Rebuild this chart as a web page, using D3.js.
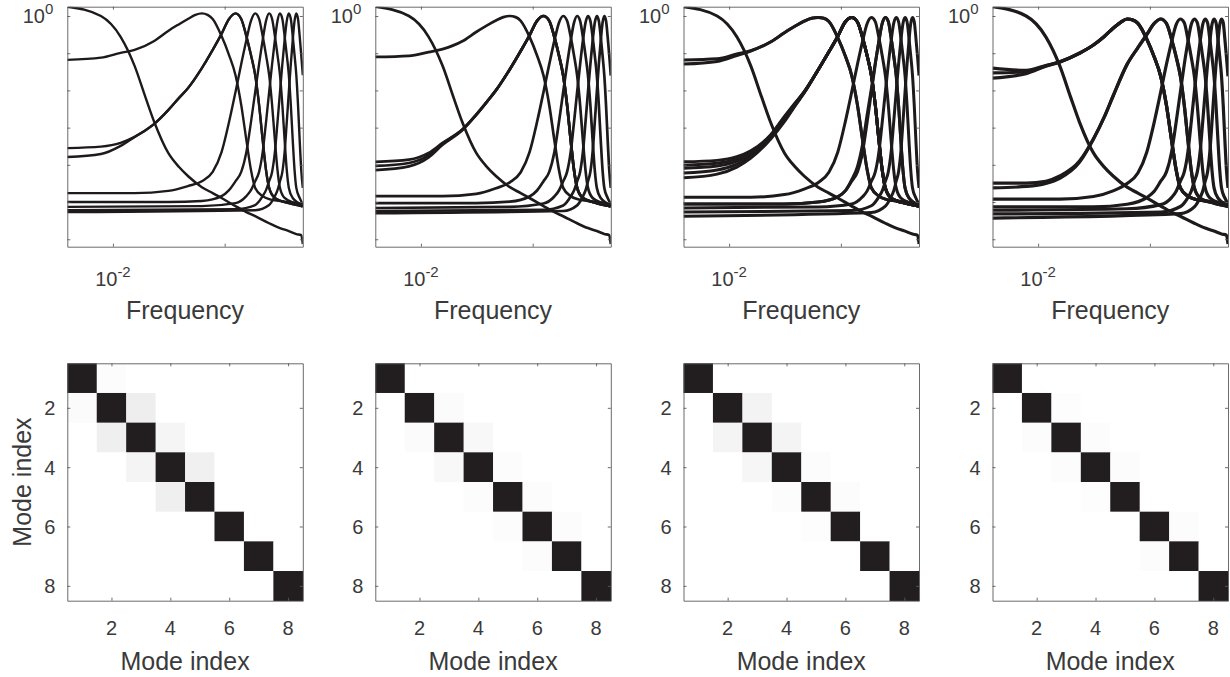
<!DOCTYPE html>
<html><head><meta charset="utf-8">
<script src="https://cdn.jsdelivr.net/npm/d3@7/dist/d3.min.js"></script>
<style>
body{margin:0;background:#fff}
text{font-family:"Liberation Sans",Arial,Helvetica,sans-serif;fill:#3a3a3a}
</style></head>
<body><svg id="c" width="1230" height="677"></svg>
<script>
// ---------------- DATA ----------------
// spectra: [frequency bin, log10 magnitude]; frequency (cycles/sample) = bin / 256
const BINS = 256;
const freqTicks = [0.01, 0.1];
const freqTickLabels = [["10", "-2"], null];
const magTicks = [1e-6, 1e-5, 1e-4, 1e-3, 1e-2, 1e-1, 1];
const magTickLabels = [null, null, null, null, null, null, ["10", "0"]];
const modeTicks = [2, 4, 6, 8];
const freqTitle = "Frequency";
const modeTitle = "Mode index";

const lowpass = [[1,0.25],[2,0],[3,-0.56],[4,-1.34],[5,-2.18],[6,-2.85],[8,-3.68],[10,-4.06],[12,-4.30],[16,-4.60],[20,-4.76],[24,-4.89],[32,-5.11],[40,-5.27],[48,-5.38],[64,-5.57],[80,-5.70],[96,-5.78],[112,-5.86],[124,-5.89],[128,-6.13]];

const panel1Spectra = [
  lowpass,
  [[1,-1.18],[2,-1.12],[3,-0.99],[4,-0.91],[6,-0.67],[8,-0.40],[10,-0.22],[12,-0.08],[14,0.03],[16,0.07],[18,0.03],[20,-0.08],[24,-0.54],[28,-1.05],[32,-1.59],[36,-2.39],[40,-3.33],[44,-4.14],[48,-4.62],[56,-4.84],[64,-4.92],[96,-5.0],[128,-5.05]],
  [[1,-3.55],[2,-3.51],[3,-3.41],[4,-3.25],[6,-2.90],[8,-2.53],[10,-2.20],[12,-1.94],[16,-1.40],[20,-0.91],[24,-0.48],[28,-0.08],[32,0.07],[36,-0.08],[40,-0.54],[44,-1.05],[48,-1.59],[52,-2.39],[56,-3.33],[60,-4.14],[64,-4.62],[72,-4.89],[96,-5.03],[128,-5.11]],
  [[1,-3.79],[2,-3.71],[3,-3.49],[4,-3.25],[6,-2.90],[8,-2.53],[10,-2.20],[12,-1.94],[16,-1.40],[20,-0.91],[24,-0.48],[28,-0.08],[32,0.07],[36,-0.08],[40,-0.54],[44,-1.05],[48,-1.59],[52,-2.39],[56,-3.33],[60,-4.14],[64,-4.62],[72,-4.89],[96,-5.03],[128,-5.11]],
  [[1,-4.76],[4,-4.76],[8,-4.70],[12,-4.57],[16,-4.44],[20,-4.19],[24,-3.66],[28,-2.85],[32,-2.04],[36,-1.29],[40,-0.65],[44,-0.13],[48,0.07],[52,-0.08],[56,-0.54],[60,-1.05],[64,-1.59],[68,-2.39],[72,-3.33],[76,-4.14],[80,-4.62],[88,-4.89],[112,-5.05],[128,-5.13]],
  [[1,-5.0],[8,-5.0],[16,-4.97],[24,-4.84],[28,-4.68],[32,-4.44],[36,-4.19],[40,-3.66],[44,-2.85],[48,-2.04],[52,-1.29],[56,-0.65],[60,-0.13],[64,0.07],[68,-0.08],[72,-0.54],[76,-1.05],[80,-1.59],[84,-2.39],[88,-3.33],[92,-4.14],[96,-4.62],[104,-4.89],[128,-5.08]],
  [[1,-5.13],[16,-5.11],[32,-5.03],[40,-4.84],[44,-4.68],[48,-4.44],[52,-4.19],[56,-3.66],[60,-2.85],[64,-2.04],[68,-1.29],[72,-0.65],[76,-0.13],[80,0.07],[84,-0.08],[88,-0.54],[92,-1.05],[96,-1.59],[100,-2.39],[104,-3.33],[108,-4.14],[112,-4.62],[120,-4.89],[128,-5.05]],
  [[1,-5.22],[32,-5.19],[48,-5.08],[56,-4.84],[60,-4.68],[64,-4.44],[68,-4.19],[72,-3.66],[76,-2.85],[80,-2.04],[84,-1.29],[88,-0.65],[92,-0.13],[96,0.07],[100,-0.08],[104,-0.54],[108,-1.05],[112,-1.59],[116,-2.39],[120,-3.33],[124,-4.14],[128,-4.62]],
  [[1,-5.27],[48,-5.22],[64,-5.08],[72,-4.84],[76,-4.68],[80,-4.44],[84,-4.19],[88,-3.66],[92,-2.85],[96,-2.04],[100,-1.29],[104,-0.65],[108,-0.13],[112,0.07],[116,-0.08],[120,-0.54],[124,-1.05],[128,-1.59]]
];

const panel2Spectra = [
  lowpass,
  [[1,-1.10],[2,-1.07],[3,-0.97],[4,-0.89],[6,-0.68],[8,-0.43],[10,-0.25],[12,-0.12],[14,-0.03],[16,0.0],[18,-0.03],[20,-0.13],[24,-0.56],[28,-1.06],[32,-1.6],[36,-2.39],[40,-3.33],[44,-4.14],[48,-4.62],[56,-4.84],[64,-4.92],[96,-5.0],[128,-5.05]],
  [[1,-3.92],[2,-3.86],[3,-3.68],[4,-3.41],[6,-3.05],[8,-2.65],[10,-2.30],[12,-2.0],[16,-1.43],[20,-0.94],[24,-0.52],[28,-0.13],[32,0.0],[36,-0.13],[40,-0.56],[44,-1.06],[48,-1.6],[52,-2.39],[56,-3.33],[60,-4.14],[64,-4.62],[72,-4.89],[96,-5.03],[128,-5.11]],
  [[1,-4.03],[2,-3.95],[3,-3.74],[4,-3.43],[6,-3.06],[8,-2.65],[10,-2.30],[12,-2.0],[16,-1.43],[20,-0.94],[24,-0.52],[28,-0.13],[32,0.0],[36,-0.13],[40,-0.56],[44,-1.06],[48,-1.6],[52,-2.39],[56,-3.33],[60,-4.14],[64,-4.62],[72,-4.89],[96,-5.03],[128,-5.11]],
  [[1,-4.14],[2,-4.04],[3,-3.80],[4,-3.46],[6,-3.07],[8,-2.66],[10,-2.30],[12,-2.0],[16,-1.43],[20,-0.94],[24,-0.52],[28,-0.13],[32,0.0],[36,-0.13],[40,-0.56],[44,-1.06],[48,-1.6],[52,-2.39],[56,-3.33],[60,-4.14],[64,-4.62],[72,-4.89],[96,-5.03],[128,-5.11]],
  [[1,-4.84],[4,-4.84],[8,-4.78],[12,-4.63],[16,-4.47],[20,-4.2],[24,-3.66],[28,-2.85],[32,-2.04],[36,-1.30],[40,-0.67],[44,-0.18],[48,0.0],[52,-0.13],[56,-0.56],[60,-1.06],[64,-1.6],[68,-2.39],[72,-3.33],[76,-4.14],[80,-4.62],[88,-4.89],[112,-5.05],[128,-5.13]],
  [[1,-5.03],[8,-5.03],[16,-4.99],[24,-4.85],[28,-4.69],[32,-4.44],[36,-4.19],[40,-3.66],[44,-2.85],[48,-2.04],[52,-1.30],[56,-0.67],[60,-0.18],[64,0.0],[68,-0.13],[72,-0.56],[76,-1.06],[80,-1.6],[84,-2.39],[88,-3.33],[92,-4.14],[96,-4.62],[104,-4.89],[128,-5.08]],
  [[1,-5.16],[16,-5.13],[32,-5.04],[40,-4.85],[44,-4.69],[48,-4.44],[52,-4.19],[56,-3.66],[60,-2.85],[64,-2.04],[68,-1.30],[72,-0.67],[76,-0.18],[80,0.0],[84,-0.13],[88,-0.56],[92,-1.06],[96,-1.6],[100,-2.39],[104,-3.33],[108,-4.14],[112,-4.62],[120,-4.89],[128,-5.05]],
  [[1,-5.24],[32,-5.21],[48,-5.09],[56,-4.85],[60,-4.69],[64,-4.44],[68,-4.19],[72,-3.66],[76,-2.85],[80,-2.04],[84,-1.30],[88,-0.67],[92,-0.18],[96,0.0],[100,-0.13],[104,-0.56],[108,-1.06],[112,-1.6],[116,-2.39],[120,-3.33],[124,-4.14],[128,-4.62]],
  [[1,-5.30],[48,-5.24],[64,-5.09],[72,-4.85],[76,-4.69],[80,-4.44],[84,-4.19],[88,-3.66],[92,-2.85],[96,-2.04],[100,-1.30],[104,-0.67],[108,-0.18],[112,0.0],[116,-0.13],[120,-0.56],[124,-1.06],[128,-1.6]]
];

const panel3Spectra = [
  lowpass,
  [[1,-1.18],[2,-1.15],[3,-1.02],[4,-0.93],[6,-0.70],[8,-0.45],[10,-0.27],[12,-0.14],[14,-0.06],[16,-0.04],[18,-0.06],[20,-0.15],[24,-0.58],[28,-1.07],[32,-1.6],[36,-2.39],[40,-3.33],[44,-4.14],[48,-4.62],[56,-4.84],[64,-4.92],[96,-5.0],[128,-5.05]],
  [[1,-1.29],[2,-1.22],[3,-1.06],[4,-0.94],[6,-0.70],[8,-0.45],[10,-0.27],[12,-0.14],[14,-0.06],[16,-0.04],[18,-0.06],[20,-0.15],[24,-0.58],[28,-1.07],[32,-1.6],[36,-2.39],[40,-3.33],[44,-4.14],[48,-4.62],[56,-4.84],[64,-4.92],[96,-5.0],[128,-5.05]],
  [[1,-3.92],[2,-3.88],[3,-3.78],[4,-3.62],[6,-3.20],[8,-2.70],[10,-2.33],[12,-2.04],[16,-1.45],[20,-0.96],[24,-0.55],[28,-0.16],[32,-0.04],[36,-0.16],[40,-0.58],[44,-1.07],[48,-1.6],[52,-2.39],[56,-3.33],[60,-4.14],[64,-4.62],[72,-4.89],[96,-5.03],[128,-5.11]],
  [[1,-4.01],[2,-3.96],[3,-3.84],[4,-3.66],[6,-3.22],[8,-2.73],[10,-2.35],[12,-2.04],[16,-1.45],[20,-0.96],[24,-0.55],[28,-0.16],[32,-0.04],[36,-0.16],[40,-0.58],[44,-1.07],[48,-1.6],[52,-2.39],[56,-3.33],[60,-4.14],[64,-4.62],[72,-4.89],[96,-5.03],[128,-5.11]],
  [[1,-4.09],[2,-4.03],[3,-3.90],[4,-3.70],[6,-3.25],[8,-2.76],[10,-2.37],[12,-2.05],[16,-1.45],[20,-0.96],[24,-0.55],[28,-0.16],[32,-0.04],[36,-0.16],[40,-0.58],[44,-1.07],[48,-1.6],[52,-2.39],[56,-3.33],[60,-4.14],[64,-4.62],[72,-4.89],[96,-5.03],[128,-5.11]],
  [[1,-4.22],[2,-4.14],[3,-3.98],[4,-3.76],[6,-3.28],[8,-2.80],[10,-2.39],[12,-2.06],[16,-1.45],[20,-0.96],[24,-0.55],[28,-0.16],[32,-0.04],[36,-0.16],[40,-0.58],[44,-1.07],[48,-1.6],[52,-2.39],[56,-3.33],[60,-4.14],[64,-4.62],[72,-4.89],[96,-5.03],[128,-5.11]],
  [[1,-4.35],[2,-4.25],[3,-4.06],[4,-3.82],[6,-3.31],[8,-2.84],[10,-2.41],[12,-2.07],[16,-1.45],[20,-0.96],[24,-0.55],[28,-0.16],[32,-0.04],[36,-0.16],[40,-0.58],[44,-1.07],[48,-1.6],[52,-2.39],[56,-3.33],[60,-4.14],[64,-4.62],[72,-4.89],[96,-5.03],[128,-5.11]],
  [[1,-4.87],[4,-4.87],[8,-4.80],[12,-4.65],[16,-4.48],[20,-4.2],[24,-3.66],[28,-2.85],[32,-2.04],[36,-1.30],[40,-0.68],[44,-0.2],[48,-0.04],[52,-0.15],[56,-0.58],[60,-1.07],[64,-1.6],[68,-2.39],[72,-3.33],[76,-4.14],[80,-4.62],[88,-4.89],[112,-5.05],[128,-5.13]],
  [[1,-5.05],[8,-5.05],[16,-5.0],[24,-4.86],[28,-4.70],[32,-4.44],[36,-4.19],[40,-3.66],[44,-2.85],[48,-2.04],[52,-1.30],[56,-0.68],[60,-0.2],[64,-0.04],[68,-0.15],[72,-0.58],[76,-1.07],[80,-1.6],[84,-2.39],[88,-3.33],[92,-4.14],[96,-4.62],[104,-4.89],[128,-5.08]],
  [[1,-5.05],[8,-5.05],[16,-5.0],[24,-4.86],[28,-4.70],[32,-4.40],[36,-4.05],[40,-3.45],[44,-2.65],[48,-1.95],[52,-1.26],[56,-0.68],[60,-0.2],[64,-0.04],[68,-0.15],[72,-0.58],[76,-1.07],[80,-1.6],[84,-2.39],[88,-3.33],[92,-4.14],[96,-4.62],[104,-4.89],[128,-5.08]],
  [[1,-5.16],[16,-5.13],[32,-5.05],[40,-4.86],[44,-4.70],[48,-4.44],[52,-4.19],[56,-3.66],[60,-2.85],[64,-2.04],[68,-1.30],[72,-0.68],[76,-0.2],[80,-0.04],[84,-0.15],[88,-0.58],[92,-1.07],[96,-1.6],[100,-2.39],[104,-3.33],[108,-4.14],[112,-4.62],[120,-4.89],[128,-5.05]],
  [[1,-5.27],[32,-5.23],[48,-5.10],[56,-4.86],[60,-4.70],[64,-4.44],[68,-4.19],[72,-3.66],[76,-2.85],[80,-2.04],[84,-1.30],[88,-0.68],[92,-0.2],[96,-0.04],[100,-0.15],[104,-0.58],[108,-1.07],[112,-1.6],[116,-2.39],[120,-3.33],[124,-4.14],[128,-4.62]],
  [[1,-5.38],[48,-5.28],[64,-5.11],[72,-4.86],[76,-4.70],[80,-4.44],[84,-4.19],[88,-3.66],[92,-2.85],[96,-2.04],[100,-1.30],[104,-0.68],[108,-0.2],[112,-0.04],[116,-0.15],[120,-0.58],[124,-1.07],[128,-1.6]]
];

const panel4Spectra = [
  lowpass,
  [[1,-1.40],[2,-1.46],[3,-1.33],[4,-1.23],[6,-1.0],[8,-0.78],[10,-0.55],[12,-0.33],[14,-0.17],[16,-0.08],[18,-0.11],[20,-0.2],[24,-0.62],[28,-1.1],[32,-1.62],[36,-2.4],[40,-3.33],[44,-4.14],[48,-4.62],[56,-4.84],[64,-4.92],[96,-5.0],[128,-5.05]],
  [[1,-1.53],[2,-1.50],[3,-1.34],[4,-1.23],[6,-1.0],[8,-0.78],[10,-0.55],[12,-0.33],[14,-0.17],[16,-0.08],[18,-0.11],[20,-0.2],[24,-0.62],[28,-1.1],[32,-1.62],[36,-2.4],[40,-3.33],[44,-4.14],[48,-4.62],[56,-4.84],[64,-4.92],[96,-5.0],[128,-5.05]],
  [[1,-1.67],[2,-1.55],[3,-1.35],[4,-1.24],[6,-1.0],[8,-0.78],[10,-0.55],[12,-0.33],[14,-0.17],[16,-0.08],[18,-0.11],[20,-0.2],[24,-0.62],[28,-1.1],[32,-1.62],[36,-2.4],[40,-3.33],[44,-4.14],[48,-4.62],[56,-4.84],[64,-4.92],[96,-5.0],[128,-5.05]],
  [[1,-4.49],[2,-4.49],[3,-4.44],[4,-4.30],[6,-3.90],[8,-3.30],[10,-2.71],[12,-2.15],[16,-1.30],[20,-0.85],[24,-0.50],[28,-0.20],[32,-0.08],[36,-0.2],[40,-0.62],[44,-1.1],[48,-1.62],[52,-2.4],[56,-3.33],[60,-4.14],[64,-4.62],[72,-4.89],[96,-5.03],[128,-5.11]],
  [[1,-4.62],[2,-4.58],[3,-4.50],[4,-4.36],[6,-3.93],[8,-3.31],[10,-2.72],[12,-2.15],[16,-1.30],[20,-0.85],[24,-0.50],[28,-0.20],[32,-0.08],[36,-0.2],[40,-0.62],[44,-1.1],[48,-1.62],[52,-2.4],[56,-3.33],[60,-4.14],[64,-4.62],[72,-4.89],[96,-5.03],[128,-5.11]],
  [[1,-4.92],[4,-4.92],[8,-4.85],[12,-4.70],[16,-4.50],[20,-4.22],[24,-3.66],[28,-2.85],[32,-2.04],[36,-1.30],[40,-0.70],[44,-0.23],[48,-0.08],[52,-0.18],[56,-0.62],[60,-1.1],[64,-1.62],[68,-2.4],[72,-3.33],[76,-4.14],[80,-4.62],[88,-4.89],[112,-5.05],[128,-5.13]],
  [[1,-5.13],[8,-5.13],[16,-5.06],[24,-4.88],[28,-4.71],[32,-4.44],[36,-4.19],[40,-3.66],[44,-2.85],[48,-2.04],[52,-1.30],[56,-0.70],[60,-0.23],[64,-0.08],[68,-0.18],[72,-0.62],[76,-1.1],[80,-1.62],[84,-2.4],[88,-3.33],[92,-4.14],[96,-4.62],[104,-4.89],[128,-5.08]],
  [[1,-5.22],[16,-5.18],[32,-5.07],[40,-4.88],[44,-4.71],[48,-4.44],[52,-4.19],[56,-3.66],[60,-2.85],[64,-2.04],[68,-1.30],[72,-0.70],[76,-0.23],[80,-0.08],[84,-0.18],[88,-0.62],[92,-1.1],[96,-1.62],[100,-2.4],[104,-3.33],[108,-4.14],[112,-4.62],[120,-4.89],[128,-5.05]],
  [[1,-5.32],[32,-5.27],[48,-5.12],[56,-4.88],[60,-4.71],[64,-4.44],[68,-4.19],[72,-3.66],[76,-2.85],[80,-2.04],[84,-1.30],[88,-0.70],[92,-0.23],[96,-0.08],[100,-0.18],[104,-0.62],[108,-1.1],[112,-1.62],[116,-2.4],[120,-3.33],[124,-4.14],[128,-4.62]],
  [[1,-5.43],[48,-5.31],[64,-5.13],[72,-4.88],[76,-4.71],[80,-4.44],[84,-4.19],[88,-3.66],[92,-2.85],[96,-2.04],[100,-1.30],[104,-0.70],[108,-0.23],[112,-0.08],[116,-0.18],[120,-0.62],[124,-1.1],[128,-1.62]]
];

// mode correlation matrices (|corr|, 8 x 8)
const panel1Corr = [
  [1,0.015,0,0,0,0,0,0],
  [0.02,1,0.077,0,0,0,0,0],
  [0,0.07,1,0.045,0,0,0,0],
  [0,0,0.05,1,0.068,0,0,0],
  [0,0,0,0.07,1,0,0,0],
  [0,0,0,0,0,1,0,0],
  [0,0,0,0,0,0,1,0],
  [0,0,0,0,0,0,0,1]
];
const panel2Corr = [
  [1,0,0,0,0,0,0,0],
  [0,1,0.02,0,0,0,0,0],
  [0,0.02,1,0.03,0,0,0,0],
  [0,0,0.03,1,0.015,0,0,0],
  [0,0,0,0.015,1,0.015,0,0],
  [0,0,0,0,0.015,1,0.015,0],
  [0,0,0,0,0,0.015,1,0],
  [0,0,0,0,0,0,0,1]
];
const panel3Corr = [
  [1,0,0,0,0,0,0,0],
  [0,1,0.055,0,0,0,0,0],
  [0,0.05,1,0.05,0,0,0,0],
  [0,0,0.04,1,0.015,0,0,0],
  [0,0,0,0.012,1,0.012,0,0],
  [0,0,0,0,0.01,1,0,0],
  [0,0,0,0,0,0,1,0],
  [0,0,0,0,0,0,0,1]
];
const panel4Corr = [
  [1,0,0,0,0,0,0,0],
  [0,1,0.01,0,0,0,0,0],
  [0,0.012,1,0.015,0,0,0,0],
  [0,0,0.015,1,0.015,0,0,0],
  [0,0,0,0.01,1,0,0,0],
  [0,0,0,0,0,1,0.015,0],
  [0,0,0,0,0,0.015,1,0],
  [0,0,0,0,0,0,0,1]
];

// ---------------- LAYOUT / STYLE ----------------
const spectraSets = [panel1Spectra, panel2Spectra, panel3Spectra, panel4Spectra];
const corrSets = [panel1Corr, panel2Corr, panel3Corr, panel4Corr];
const lineWidths = [2.4, 2.7, 3.0, 3.2];
const lefts = [67.3, 375.3, 683.5, 992.5];
const PW = 235.5;
const topBox = [6.7, 246.7];
const botBox = [363.3, 600.7];
const AXIS = "#5a5a5a";
const INK = "#1e1a1b";

const svg = d3.select("#c");
const defs = svg.append("defs");

function styleAxis(g) {
  g.selectAll("path.domain").attr("stroke", AXIS).attr("stroke-width", 0.9);
  g.selectAll(".tick line").attr("stroke", AXIS).attr("stroke-width", 0.9);
  g.selectAll(".tick text").remove();
}

function supLabel(g, x, y, parts, anchor, size, supSize, dy) {
  const t = g.append("text").attr("x", x).attr("y", y)
    .attr("text-anchor", anchor).attr("font-size", size);
  t.append("tspan").text(parts[0]);
  t.append("tspan").attr("font-size", supSize).attr("dy", -dy).text(parts[1]);
}

spectraSets.forEach((curves, i) => {
  const L = lefts[i];
  const g = svg.append("g");
  const x = d3.scaleLog().domain([1 / BINS, 0.5]).range([L, L + PW]);
  const y = d3.scaleLog().domain([Math.pow(10, -6.2), Math.pow(10, 0.25)]).range([topBox[1], topBox[0]]);

  const cid = "clip" + i;
  defs.append("clipPath").attr("id", cid).append("rect")
    .attr("x", L).attr("y", topBox[0]).attr("width", PW).attr("height", topBox[1] - topBox[0]);

  const line = d3.line()
    .x(d => x(d[0] / BINS))
    .y(d => y(Math.pow(10, d[1])))
    .curve(d3.curveMonotoneX);

  g.append("g").attr("clip-path", `url(#${cid})`)
    .selectAll("path").data(curves).join("path")
    .attr("d", line).attr("fill", "none").attr("stroke", INK)
    .attr("stroke-width", lineWidths[i]).attr("stroke-linejoin", "round");

  const tk = 3;
  g.append("g").attr("transform", `translate(0,${topBox[1]})`)
    .call(d3.axisBottom(x).tickValues(freqTicks).tickSize(-tk).tickSizeOuter(0)).call(styleAxis);
  g.append("g").attr("transform", `translate(0,${topBox[0]})`)
    .call(d3.axisTop(x).tickValues(freqTicks).tickSize(-tk).tickSizeOuter(0)).call(styleAxis);
  g.append("g").attr("transform", `translate(${L},0)`)
    .call(d3.axisLeft(y).tickValues(magTicks).tickSize(-tk).tickSizeOuter(0)).call(styleAxis);
  g.append("g").attr("transform", `translate(${L + PW},0)`)
    .call(d3.axisRight(y).tickValues(magTicks).tickSize(-tk).tickSizeOuter(0)).call(styleAxis);

  freqTicks.forEach((v, k) => {
    if (freqTickLabels[k]) supLabel(g, x(v), topBox[1] + 39.5, freqTickLabels[k], "middle", 20, 15, 9);
  });
  magTicks.forEach((v, k) => {
    if (magTickLabels[k]) supLabel(g, L - 14, y(v) + 7, magTickLabels[k], "end", 20, 15, 9);
  });
  g.append("text").attr("x", L + PW / 2).attr("y", 319).attr("text-anchor", "middle")
    .attr("font-size", 25).text(freqTitle);
});

corrSets.forEach((M, i) => {
  const L = lefts[i];
  const g = svg.append("g");
  const x = d3.scaleLinear().domain([0.5, 8.5]).range([L, L + PW]);
  const y = d3.scaleLinear().domain([0.5, 8.5]).range([botBox[0], botBox[1]]);
  const col = d3.scaleLinear().domain([0, 1]).range(["#ffffff", "#221e1f"]);
  const cells = [];
  M.forEach((row, r) => row.forEach((v, c) => cells.push({ r: r + 1, c: c + 1, v })));
  g.selectAll("rect").data(cells).join("rect")
    .attr("x", d => x(d.c - 0.5)).attr("y", d => y(d.r - 0.5))
    .attr("width", x(1.5) - x(0.5) + 0.3).attr("height", y(1.5) - y(0.5) + 0.3)
    .attr("fill", d => col(d.v));

  const tk = 3;
  g.append("g").attr("transform", `translate(0,${botBox[1]})`)
    .call(d3.axisBottom(x).tickValues(modeTicks).tickSize(-tk).tickSizeOuter(0)).call(styleAxis);
  g.append("g").attr("transform", `translate(0,${botBox[0]})`)
    .call(d3.axisTop(x).tickValues(modeTicks).tickSize(-tk).tickSizeOuter(0)).call(styleAxis);
  g.append("g").attr("transform", `translate(${L},0)`)
    .call(d3.axisLeft(y).tickValues(modeTicks).tickSize(-tk).tickSizeOuter(0)).call(styleAxis);
  g.append("g").attr("transform", `translate(${L + PW},0)`)
    .call(d3.axisRight(y).tickValues(modeTicks).tickSize(-tk).tickSizeOuter(0)).call(styleAxis);

  modeTicks.forEach(v => {
    g.append("text").attr("x", x(v)).attr("y", 635).attr("text-anchor", "middle")
      .attr("font-size", 20).text(v);
    g.append("text").attr("x", L - 12).attr("y", y(v) + 7.5).attr("text-anchor", "end")
      .attr("font-size", 20).text(v);
  });
  g.append("text").attr("x", L + PW / 2).attr("y", 670).attr("text-anchor", "middle")
    .attr("font-size", 25).text(modeTitle);
  if (i === 0) {
    g.append("text").attr("transform", `translate(31,${(botBox[0] + botBox[1]) / 2}) rotate(-90)`)
      .attr("text-anchor", "middle").attr("font-size", 25).text(modeTitle);
  }
});
</script></body></html>
